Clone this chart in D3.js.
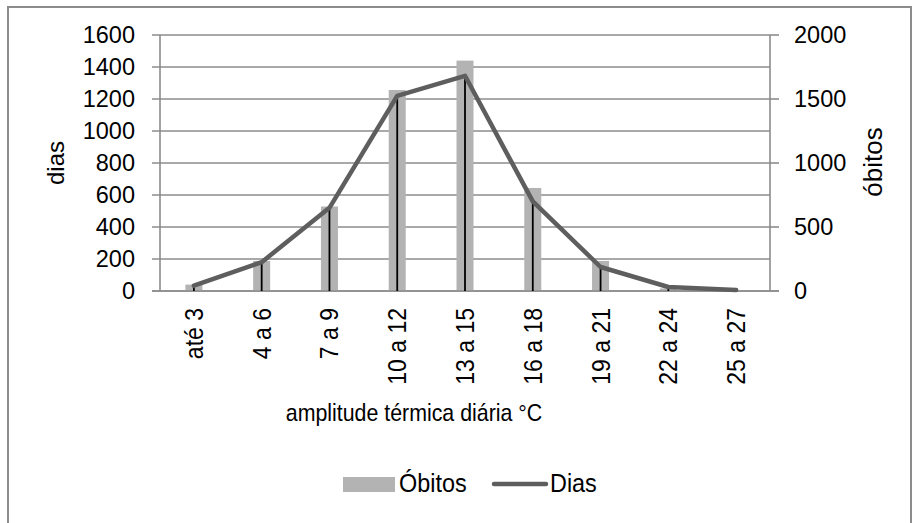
<!DOCTYPE html>
<html><head><meta charset="utf-8">
<script src="https://cdn.jsdelivr.net/npm/d3@7"></script>
<style>body{margin:0;background:#fff}svg{display:block}text{font-family:"Liberation Sans",Arial,sans-serif;fill:#000}</style>
</head><body>
<svg id="c" width="917" height="523"></svg>
<script>
const categories = ["até 3","4 a 6","7 a 9","10 a 12","13 a 15","16 a 18","19 a 21","22 a 24","25 a 27"];
const obitos = [50, 235, 660, 1570, 1800, 805, 235, 20, 5];
const dias = [33, 180, 520, 1220, 1345, 560, 150, 25, 6];
const leftTicks = [0,200,400,600,800,1000,1200,1400,1600];
const rightTicks = [0,500,1000,1500,2000];

const svg = d3.select("#c");
const L = 160, R = 770, T = 35, B = 291;
const x = d3.scaleBand().domain(categories).range([L, R]);
const yL = d3.scaleLinear().domain([0,1600]).range([B, T]);
const yR = d3.scaleLinear().domain([0,2000]).range([B, T]);
const grid = "#8c8c8c";

// outer border
svg.append("rect").attr("x",8).attr("y",7).attr("width",903).attr("height",530)
  .attr("fill","none").attr("stroke","#8c8c8c").attr("stroke-width",2);

// gridlines
svg.append("g").selectAll("line").data(leftTicks).join("line")
  .attr("x1",L-8).attr("x2",R).attr("y1",d=>yL(d)).attr("y2",d=>yL(d))
  .attr("stroke",grid).attr("stroke-width",1.6);
// right ticks
svg.append("g").selectAll("line").data(rightTicks).join("line")
  .attr("x1",R).attr("x2",R+9).attr("y1",d=>yR(d)).attr("y2",d=>yR(d))
  .attr("stroke",grid).attr("stroke-width",1.6);
// vertical axis lines
svg.append("line").attr("x1",L).attr("x2",L).attr("y1",T).attr("y2",B).attr("stroke",grid).attr("stroke-width",1.6);
svg.append("line").attr("x1",R).attr("x2",R).attr("y1",T).attr("y2",B).attr("stroke",grid).attr("stroke-width",1.6);

// bars
const bw = 17;
svg.append("g").selectAll("rect").data(obitos).join("rect")
  .attr("x",(d,i)=>x(categories[i])+x.bandwidth()/2-bw/2)
  .attr("y",d=>yR(d)).attr("width",bw).attr("height",d=>B-yR(d))
  .attr("fill","#b3b3b3");

// baseline over bars
svg.append("line").attr("x1",L-8).attr("x2",R+9).attr("y1",B).attr("y2",B).attr("stroke",grid).attr("stroke-width",1.6);

// drop lines
svg.append("g").selectAll("line").data(dias).join("line")
  .attr("x1",(d,i)=>x(categories[i])+x.bandwidth()/2)
  .attr("x2",(d,i)=>x(categories[i])+x.bandwidth()/2)
  .attr("y1",d=>yL(d)).attr("y2",B).attr("stroke","#000").attr("stroke-width",1.8);

// line
const line = d3.line().x((d,i)=>x(categories[i])+x.bandwidth()/2).y(d=>yL(d));
svg.append("path").datum(dias).attr("d",line).attr("fill","none")
  .attr("stroke","#5e5e5e").attr("stroke-width",4.5).attr("stroke-linejoin","round").attr("stroke-linecap","round");

// left tick labels
svg.append("g").selectAll("text").data(leftTicks).join("text")
  .attr("x",135).attr("y",d=>yL(d)).attr("dy","0.35em").attr("text-anchor","end")
  .style("font-size","23.5px").text(d=>d);
// right tick labels
svg.append("g").selectAll("text").data(rightTicks).join("text")
  .attr("x",794).attr("y",d=>yR(d)).attr("dy","0.35em").attr("text-anchor","start")
  .style("font-size","23.5px").text(d=>d);

// category labels
svg.append("g").selectAll("text").data(categories).join("text")
  .attr("transform",d=>`translate(${x(d)+x.bandwidth()/2+9},308) rotate(-90) scale(0.92,1)`)
  .attr("text-anchor","end").style("font-size","25px").text(d=>d);

// axis titles
svg.append("text").attr("transform","translate(64,163) rotate(-90)").attr("text-anchor","middle")
  .style("font-size","24px").text("dias");
svg.append("text").attr("transform","translate(882,162) rotate(-90)").attr("text-anchor","middle")
  .style("font-size","26px").text("óbitos");
svg.append("text").attr("transform","translate(414,421) scale(0.89,1)").attr("text-anchor","middle")
  .style("font-size","24px").text("amplitude térmica diária °C");

// legend
svg.append("rect").attr("x",343).attr("y",477).attr("width",52).attr("height",15).attr("fill","#b3b3b3");
svg.append("text").attr("transform","translate(399,492) scale(0.9,1)").style("font-size","26px").text("Óbitos");
svg.append("line").attr("x1",494).attr("x2",546).attr("y1",484).attr("y2",484)
  .attr("stroke","#5e5e5e").attr("stroke-width",4.5).attr("stroke-linecap","round");
svg.append("text").attr("transform","translate(550,492) scale(0.9,1)").style("font-size","26px").text("Dias");
</script>
</body></html>
